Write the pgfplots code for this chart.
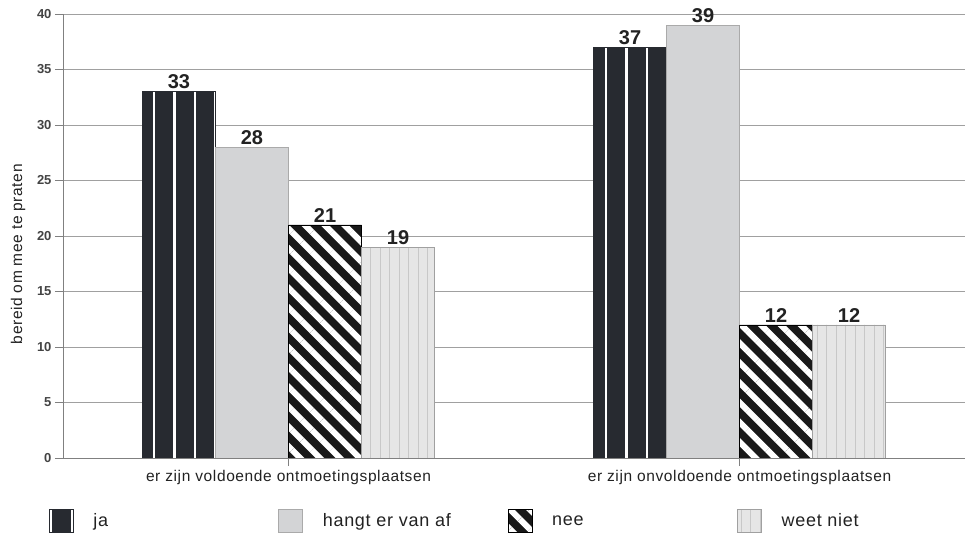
\documentclass[border=0pt]{standalone}
\usepackage{pgfplots}
\pgfplotsset{compat=1.18}
\usetikzlibrary{patterns.meta}
\usepackage{fontspec}
\setmainfont{Liberation Sans}
\newfontfamily\lsp[LetterSpace=4]{Liberation Sans}
\definecolor{jadark}{HTML}{272A30}
\definecolor{hangt}{HTML}{D3D4D6}
\definecolor{weet}{HTML}{E6E6E6}
\definecolor{weetline}{HTML}{C8C8C8}
\definecolor{gridc}{HTML}{A0A0A0}
\definecolor{txt}{HTML}{222222}
\pgfplotsset{boxlegend/.style={legend image code/.code={\draw[##1] (0pt,-11.5pt) rectangle (24pt,11.5pt);}}}
\begin{document}
\begin{tikzpicture}
\useasboundingbox (-63pt,-76pt) rectangle (902pt,458pt);
\begin{axis}[
  at={(0pt,0pt)}, anchor=south west,
  scale only axis, width=902pt, height=444pt,
  xmin=-0.5, xmax=1.5, ymin=0, ymax=40,
  ybar, bar width=73pt,
  axis x line*=bottom, axis y line*=left,
  axis line style={-, draw=gridc!80!black, line width=0.8pt},
  tick align=outside, major tick length=8pt,
  tick style={draw=gridc!80!black, line width=0.8pt},
  xtick={0,1}, ytick={0,5,...,40},
  xticklabels={er zijn voldoende ontmoetingsplaatsen, er zijn onvoldoende ontmoetingsplaatsen},
  ymajorgrids, major grid style={draw=gridc, line width=0.8pt},
  /pgf/number format/assume math mode=true,
  yticklabel style={font=\fontsize{13}{15}\selectfont\bfseries, text=txt!85},
  xticklabel style={font=\lsp\fontsize{15.5}{17}\selectfont, text=txt, yshift=-1pt},
  ylabel={bereid om mee te praten},
  ylabel style={font=\lsp\fontsize{15.5}{17}\selectfont, text=txt, at={(axis description cs:-0.0499,0.459)}, anchor=center},
  nodes near coords,
  every node near coord/.append style={font=\fontsize{20}{22}\selectfont\bfseries, text=txt, anchor=south, inner sep=2.5pt},
  legend columns=4,
  legend style={at={(axis description cs:-0.01552,-0.1419)}, anchor=west, draw=none, fill=none, inner sep=0pt, outer sep=0pt, column sep=0pt,
    nodes={inner sep=0pt, font=\lsp\fontsize{18}{20}\selectfont, text=txt}},
]
\addplot[boxlegend, bar shift=-109.5pt, draw=jadark, preaction={fill=jadark}, pattern={Lines[angle=90, distance=20.55pt, line width=2.2pt, xshift=10pt]}, pattern color=white]
  coordinates {(0,33) (1,37)};
\addlegendentry{\hspace{20pt}\makebox[185pt][l]{ja}}
\addplot[boxlegend, bar shift=-36.5pt, draw=gridc!90, fill=hangt]
  coordinates {(0,28) (1,39)};
\addlegendentry{\hspace{20pt}\makebox[185pt][l]{hangt er van af}}
\addplot[boxlegend, bar shift=36.5pt, draw=black, preaction={fill=black!90}, pattern={Lines[angle=-45, distance=14pt, line width=6pt]}, pattern color=white]
  coordinates {(0,21) (1,12)};
\addlegendentry{\hspace{20pt}\makebox[185pt][l]{nee}}
\addplot[boxlegend, bar shift=109.5pt, draw=gridc, preaction={fill=weet}, pattern={Lines[angle=90, distance=9.5pt, line width=1pt]}, pattern color=weetline]
  coordinates {(0,19) (1,12)};
\addlegendentry{\hspace{20pt}\makebox[185pt][l]{weet niet}}
\end{axis}
\end{tikzpicture}
\end{document}
